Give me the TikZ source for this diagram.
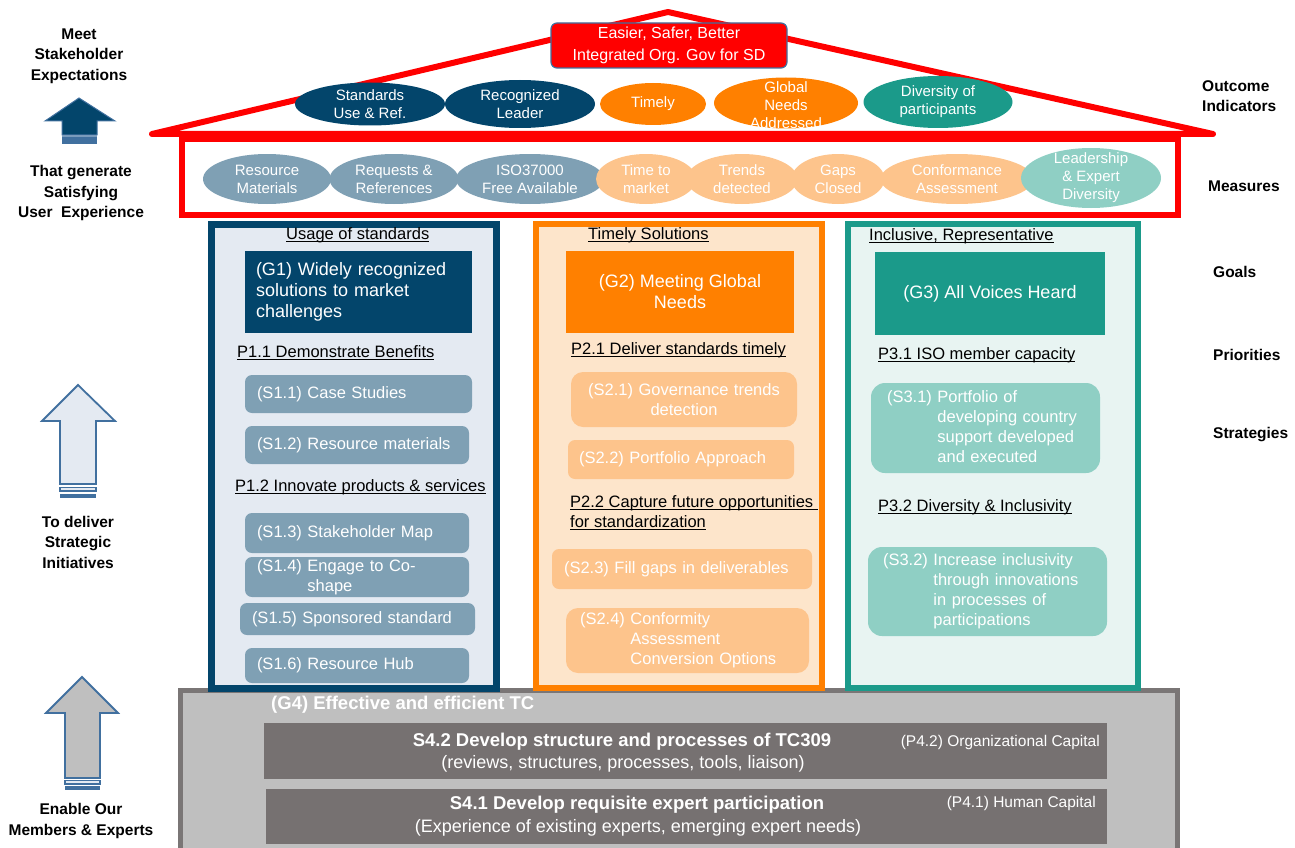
\documentclass[tikz,border=0pt]{standalone}
\usepackage{fontspec}
\setmainfont{Liberation Sans}
\usetikzlibrary{shapes.geometric}

\definecolor{isonavy}{HTML}{03456B}
\definecolor{isoorange}{HTML}{FF8000}
\definecolor{isoteal}{HTML}{1B9A8A}
\definecolor{greyblue}{HTML}{7FA0B4}
\definecolor{lightorange}{HTML}{FDC48C}
\definecolor{lightteal}{HTML}{8FCFC4}
\definecolor{paleblue}{HTML}{E4EAF2}
\definecolor{paleorange}{HTML}{FDE5CB}
\definecolor{paleteal}{HTML}{E8F4F2}
\definecolor{roofred}{HTML}{FF0000}
\definecolor{basegrey}{HTML}{BFBFBF}
\definecolor{baseedge}{HTML}{7A7676}
\definecolor{bardark}{HTML}{767171}
\definecolor{arrowedge}{HTML}{41709F}

\newcommand{\txtM}{\fontsize{15}{18}\selectfont}
\newcommand{\txtT}{\fontsize{16}{22}\selectfont}
\newcommand{\txtH}{\fontsize{16.5}{20}\selectfont}
\newcommand{\txtG}{\fontsize{18}{21}\selectfont}
\newcommand{\txtS}{\fontsize{16.5}{20}\selectfont}
\newcommand{\txtL}{\fontsize{15.5}{20.5}\selectfont\bfseries}
\newcommand{\txtB}{\fontsize{18.5}{22}\selectfont\bfseries}
\newcommand{\txtC}{\fontsize{18}{22}\selectfont}
\newcommand{\txtP}{\fontsize{15.5}{18}\selectfont}
\newcommand{\ulinetext}[1]{\setbox0\hbox{#1}\rlap{\rule[-2.4pt]{\wd0}{1pt}}\box0}

\begin{document}
\begin{tikzpicture}[x=1pt, y=-1pt,
    oval/.style={ellipse, inner sep=0pt},
    ovaltext/.style={inner sep=0pt, text=white, font=\txtM, align=center},
    sidelabel/.style={font=\txtL, align=center, inner sep=0pt},
    heading/.style={font=\txtH, inner sep=0pt, anchor=west, align=left},
    goal/.style={inner xsep=11pt, inner ysep=0pt, text=white, font=\txtG},
    strat/.style={rounded corners=7pt, inner xsep=12pt, inner ysep=0pt, text=white, font=\txtS, align=left},
    bar/.style={fill=bardark, inner sep=0pt},
    bartext/.style={inner sep=0pt, text=white},
    bigarrow/.style={draw=arrowedge, line width=1.8pt, line join=miter}]
  \useasboundingbox (0,0) rectangle (1295,848);

  \draw[roofred, line width=6pt, line join=round] (152,134) -- (668,12) -- (1213,134) -- cycle;
  \node[draw=arrowedge, line width=1.2pt, fill=roofred, rounded corners=6pt, minimum width=236pt, minimum height=45pt, inner sep=0pt, text=white, font=\txtT, align=center] (vision) at (669,45.5) {Easier, Safer, Better\\Integrated Org. Gov for SD};

  \node[oval, fill=isonavy, minimum width=150pt, minimum height=43pt] (out1) at (370,104) {};
  \node[ovaltext] (out1t) at (out1) {Standards\\Use \& Ref.};
  \node[oval, fill=isonavy, minimum width=150pt, minimum height=48pt] (out2) at (520,104) {};
  \node[ovaltext] (out2t) at (out2) {Recognized\\Leader};
  \node[oval, fill=isoorange, minimum width=106pt, minimum height=42pt] (out3) at (653,104) {};
  \node[ovaltext] (out3t) at (out3) {Timely};
  \node[oval, fill=isoorange, minimum width=144pt, minimum height=51pt] (out4) at (786,103) {};
  \node[ovaltext] (out4t) at (786,105) {Global\\Needs\\Addressed};
  \node[oval, fill=isoteal, minimum width=149pt, minimum height=52pt] (out5) at (938,102) {};
  \node[ovaltext] (out5t) at (out5) {Diversity of\\participants};

  \draw[roofred, line width=6pt] (182,139) rectangle (1178,215);
  \node[oval, fill=greyblue, minimum width=128pt, minimum height=50pt] (m1) at (267,179) {};
  \node[ovaltext] (m1t) at (m1) {Resource\\Materials};
  \node[oval, fill=greyblue, minimum width=129pt, minimum height=50pt] (m2) at (394,179) {};
  \node[ovaltext] (m2t) at (m2) {Requests \&\\References};
  \node[oval, fill=greyblue, minimum width=148pt, minimum height=50pt] (m3) at (530,179) {};
  \node[ovaltext] (m3t) at (m3) {ISO37000\\Free Available};
  \node[oval, fill=lightorange, minimum width=100pt, minimum height=50pt] (m4) at (646,179) {};
  \node[ovaltext] (m4t) at (m4) {Time to\\market};
  \node[oval, fill=lightorange, minimum width=111pt, minimum height=50pt] (m5) at (742,179) {};
  \node[ovaltext] (m5t) at (m5) {Trends\\detected};
  \node[oval, fill=lightorange, minimum width=93pt, minimum height=50pt] (m6) at (838,179) {};
  \node[ovaltext] (m6t) at (m6) {Gaps\\Closed};
  \node[oval, fill=lightorange, minimum width=153pt, minimum height=50pt] (m7) at (957,179) {};
  \node[ovaltext] (m7t) at (m7) {Conformance\\Assessment};
  \node[oval, fill=lightteal, minimum width=140pt, minimum height=60pt] (m8) at (1091,178) {};
  \node[ovaltext] (m8t) at (m8) {Leadership\\\& Expert\\Diversity};

  \filldraw[draw=baseedge, fill=basegrey, line width=5pt] (180.5,690.5) rectangle (1177.5,853);
  \filldraw[draw=isonavy, fill=paleblue, line width=7pt] (211.5,224.5) rectangle (496.5,688);
  \filldraw[draw=isoorange, fill=paleorange, line width=6pt] (536,224) rectangle (822,688);
  \filldraw[draw=isoteal, fill=paleteal, line width=6pt] (848,224) rectangle (1138,688);

  \node[heading] (usage) at (286,235) {\ulinetext{Usage of standards}};
  \node[goal, fill=isonavy, text width=205pt, minimum height=82pt, align=left] (g1) at (358.5,292) {(G1) Widely recognized\\solutions to market\\challenges};
  \node[heading] (p11) at (237,353) {\ulinetext{P1.1 Demonstrate Benefits}};
  \node[strat, fill=greyblue, text width=203pt, minimum height=38pt] (s11) at (358.5,394) {(S1.1) Case Studies};
  \node[strat, fill=greyblue, text width=200pt, minimum height=38pt] (s12) at (357,445) {(S1.2) Resource materials};
  \node[heading] (p12) at (235,487) {\ulinetext{P1.2 Innovate products \& services}};
  \node[strat, fill=greyblue, text width=200pt, minimum height=40pt] (s13) at (357,533) {(S1.3) Stakeholder Map};
  \node[strat, fill=greyblue, text width=200pt, minimum height=36pt] (s14) at (357,577) {\begin{tabular}{@{}l@{ }l@{}}(S1.4) & Engage to Co-\\ & shape\end{tabular}};
  \node[strat, fill=greyblue, text width=211pt, minimum height=32pt] (s15) at (357.5,619) {(S1.5) Sponsored standard};
  \node[strat, fill=greyblue, text width=200pt, minimum height=35pt] (s16) at (357,665.5) {(S1.6) Resource Hub};

  \node[heading] (timely) at (588,235) {\ulinetext{Timely Solutions}};
  \node[goal, fill=isoorange, minimum width=228pt, minimum height=82pt, align=center] (g2) at (680,292) {(G2) Meeting Global\\Needs};
  \node[heading] (p21) at (571,350) {\ulinetext{P2.1 Deliver standards timely}};
  \node[strat, fill=lightorange, rounded corners=12pt, text width=202pt, minimum height=55pt, align=center] (s21) at (684,399.5) {(S2.1) Governance trends\\detection};
  \node[strat, fill=lightorange, inner xsep=11pt, text width=204pt, minimum height=39pt] (s22) at (681,459.5) {(S2.2) Portfolio Approach};
  \node[heading] (p22) at (570,513) {\ulinetext{P2.2 Capture future opportunities }\\\ulinetext{for standardization}};
  \node[strat, fill=lightorange, text width=236pt, minimum height=40pt] (s23) at (682,569) {(S2.3) Fill gaps in deliverables};
  \node[strat, fill=lightorange, rounded corners=12pt, inner xsep=14pt, text width=215pt, minimum height=65pt] (s24) at (687.5,640.5) {\begin{tabular}{@{}l@{ }l@{}}(S2.4) & Conformity\\ & Assessment\\ & Conversion Options\end{tabular}};

  \node[heading] (inclusive) at (869,236) {\ulinetext{Inclusive, Representative}};
  \node[goal, fill=isoteal, minimum width=230pt, minimum height=83pt] (g3) at (990,293.5) {(G3) All Voices Heard};
  \node[heading] (p31) at (878,355) {\ulinetext{P3.1 ISO member capacity}};
  \node[strat, fill=lightteal, rounded corners=14pt, inner xsep=16pt, text width=197pt, minimum height=90pt] (s31) at (985.5,428) {\begin{tabular}{@{}l@{ }l@{}}(S3.1) & Portfolio of\\ & developing country\\ & support developed\\ & and executed\end{tabular}};
  \node[heading] (p32) at (878,507) {\ulinetext{P3.2 Diversity \& Inclusivity}};
  \node[strat, fill=lightteal, rounded corners=14pt, inner xsep=15pt, text width=209pt, minimum height=89pt] (s32) at (987.5,591.5) {\begin{tabular}{@{}l@{ }l@{}}(S3.2) & Increase inclusivity\\ & through innovations\\ & in processes of\\ & participations\end{tabular}};

  \node[bartext, anchor=west, font=\txtB] (g4) at (271,705) {(G4) Effective and efficient TC};
  \node[bar, minimum width=843pt, minimum height=56pt] (s42) at (685.5,751) {};
  \node[bartext, font=\txtB] (s42a) at (622,742) {S4.2 Develop structure and processes of TC309};
  \node[bartext, font=\txtC] (s42b) at (623,764) {(reviews, structures, processes, tools, liaison)};
  \node[bartext, anchor=east, font=\txtP] (p42) at (1100,742) {(P4.2) Organizational Capital};
  \node[bar, minimum width=841pt, minimum height=55pt] (s41) at (686.5,816.5) {};
  \node[bartext, font=\txtB] (s41a) at (637,805) {S4.1 Develop requisite expert participation};
  \node[bartext, font=\txtC] (s41b) at (638,828) {(Experience of existing experts, emerging expert needs)};
  \node[bartext, anchor=east, font=\txtP] (p41) at (1096,803) {(P4.1) Human Capital};

  \filldraw[bigarrow, fill=isonavy, line width=1pt] (79,98) -- (115,121) -- (97,121) -- (97,135) -- (62,135) -- (62,121) -- (45,121) -- cycle;
  \fill[arrowedge!70!white] (62,135) rectangle (97,137.5);
  \fill[arrowedge] (62,137.5) rectangle (97,144);
  \filldraw[bigarrow, fill=paleblue] (78,385) -- (115,421) -- (96,421) -- (96,484) -- (60,484) -- (60,421) -- (42,421) -- cycle;
  \filldraw[draw=arrowedge, fill=paleblue, line width=1.5pt] (60,487.5) rectangle (96,491);
  \fill[arrowedge] (60,493.5) rectangle (96,497.5);
  \filldraw[bigarrow, fill=basegrey] (82,677) -- (118,713) -- (100,713) -- (100,778) -- (65,778) -- (65,713) -- (46,713) -- cycle;
  \filldraw[draw=arrowedge, fill=paleblue, line width=1.5pt] (65,780.5) rectangle (100,784);
  \fill[arrowedge] (65,786) rectangle (100,789.5);

  \node[sidelabel] (meet) at (79,56) {Meet\\Stakeholder\\Expectations};
  \node[sidelabel] (generate) at (81,193) {That generate\\Satisfying\\User~~Experience};
  \node[sidelabel] (deliver) at (78,542) {To deliver\\Strategic\\Initiatives};
  \node[sidelabel] (enable) at (81,821) {Enable Our\\Members \& Experts};

  \node[sidelabel, anchor=west, align=left] (outcome) at (1202,96) {Outcome\\Indicators};
  \node[sidelabel, anchor=west] (measures) at (1208,186) {Measures};
  \node[sidelabel, anchor=west] (goals) at (1213,272) {Goals};
  \node[sidelabel, anchor=west] (priorities) at (1213,355) {Priorities};
  \node[sidelabel, anchor=west] (strategies) at (1213,435) {Strategies};
\end{tikzpicture}
\end{document}
